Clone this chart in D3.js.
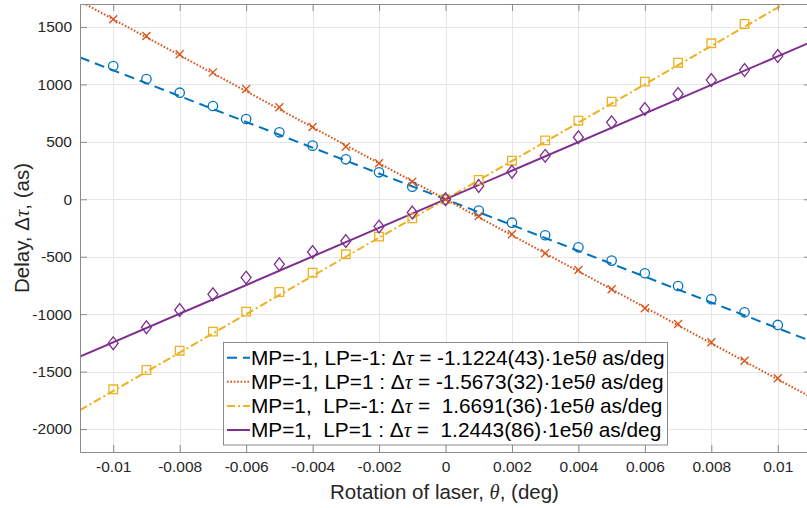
<!DOCTYPE html>
<html>
<head>
<meta charset="utf-8">
<script src="https://cdn.jsdelivr.net/npm/d3@7"></script>
<style>
  body { margin: 0; background: #fff; }
  svg { display: block; font-family: "Liberation Sans", Arial, Helvetica, sans-serif; }
  text { white-space: pre; }
</style>
</head>
<body>
<div id="chart"></div>
<script>

// rotation angles (deg) of the measured points
var theta = [-0.01, -0.009, -0.008, -0.007, -0.006, -0.005, -0.004, -0.003, -0.002, -0.001, 0,
             0.001, 0.002, 0.003, 0.004, 0.005, 0.006, 0.007, 0.008, 0.009, 0.01];

var delayMm = [1160, 1047, 928, 812, 699, 583, 467, 348, 235, 110, 0,
               -99, -204, -313, -418, -534, -644, -755, -870, -984, -1094];
var delayMp = [1567, 1421, 1262, 1105, 960, 801, 629, 458, 313, 153, 0,
               -145, -305, -470, -615, -783, -949, -1085, -1245, -1405, -1558];
var delayPm = [-1654, -1486, -1318, -1152, -978, -807, -639, -479, -325, -165, 0,
               168, 336, 513, 684, 850, 1024, 1189, 1358, 1526, 1740];
var delayPp = [-1253, -1114, -964, -827, -682, -566, -459, -363, -238, -115, 0,
               116, 240, 378, 540, 670, 786, 917, 1038, 1125, 1247];

// fitted lines, value at the left and right ends of the axis
var fitTheta = [-0.011, 0.011];
var fitMm = [1235, -1235];
var fitMp = [1724, -1724];
var fitPm = [-1836, 1836];
var fitPp = [-1369, 1369];

var legendLabels = [
  "MP=-1, LP=-1: \u0394\u03c4 = -1.1224(43)\u00b71e5\u03b8 as/deg",
  "MP=-1, LP=1 : \u0394\u03c4 = -1.5673(32)\u00b71e5\u03b8 as/deg",
  "MP=1,  LP=-1: \u0394\u03c4 =  1.6691(36)\u00b71e5\u03b8 as/deg",
  "MP=1,  LP=1 : \u0394\u03c4 =  1.2443(86)\u00b71e5\u03b8 as/deg"
];

var xTicks = [-0.01, -0.008, -0.006, -0.004, -0.002, 0, 0.002, 0.004, 0.006, 0.008, 0.01];
var xTickLabels = ["-0.01", "-0.008", "-0.006", "-0.004", "-0.002", "0", "0.002", "0.004", "0.006", "0.008", "0.01"];
var yTicks = [-2000, -1500, -1000, -500, 0, 500, 1000, 1500];

var series = [
  {y: delayMm, fit: fitMm, color: "#0072BD", dash: "10,6", marker: "o"},
  {y: delayMp, fit: fitMp, color: "#D95319", dash: "1.6,1.8", marker: "x"},
  {y: delayPm, fit: fitPm, color: "#EDB120", dash: "8,3,2,3", marker: "s"},
  {y: delayPp, fit: fitPp, color: "#7E2F8E", dash: null, marker: "d"}
];

var svg_dx = 807, svg_dy = 508;
var plot = {left: 80, right: 811, top: 4, bottom: 452};

var x = d3.scaleLinear().domain([-0.011, 0.011]).range([plot.left, plot.right]),
    y = d3.scaleLinear().domain([-2200, 1700]).range([plot.bottom, plot.top]);

var svg = d3.select("#chart")
            .append("svg")
            .attr("width", svg_dx)
            .attr("height", svg_dy);

svg.append("defs").append("clipPath")
   .attr("id", "clip")
   .append("rect")
   .attr("x", plot.left)
   .attr("y", plot.top)
   .attr("width", plot.right - plot.left)
   .attr("height", plot.bottom - plot.top);

// grid
var grid = svg.append("g").attr("stroke", "#e6e6e6").attr("stroke-width", 1);
grid.selectAll(".vg").data(xTicks).enter().append("line")
    .attr("x1", d => Math.round(x(d)) + 0.5).attr("x2", d => Math.round(x(d)) + 0.5)
    .attr("y1", plot.top).attr("y2", plot.bottom);
grid.selectAll(".hg").data(yTicks).enter().append("line")
    .attr("y1", d => Math.round(y(d)) + 0.5).attr("y2", d => Math.round(y(d)) + 0.5)
    .attr("x1", plot.left).attr("x2", plot.right);

// marker shapes
function markerPath(type) {
  if (type == "o") return d3.symbol().type(d3.symbolCircle).size(Math.PI * 4.7 * 4.7)();
  if (type == "s") return "M-4.3,-4.3H4.3V4.3H-4.3Z";
  if (type == "d") return "M0,-6.4L5,0L0,6.4L-5,0Z";
  return "M-4,-4L4,4M-4,4L4,-4";
}

var plotArea = svg.append("g").attr("clip-path", "url(#clip)");

var fitLine = d3.line()
    .x((d, i) => x(fitTheta[i]))
    .y(d => y(d));

series.forEach(function (s) {
  plotArea.append("path")
      .datum(s.fit)
      .attr("d", fitLine)
      .attr("fill", "none")
      .attr("stroke", s.color)
      .attr("stroke-width", 2)
      .attr("stroke-dasharray", s.dash);
});

series.forEach(function (s) {
  plotArea.append("g")
      .selectAll("path")
      .data(s.y.filter(v => v <= 1700 && v >= -2200))
      .enter()
      .append("path")
      .attr("transform", (d, i) => "translate(" + x(theta[s.y.indexOf(d)]) + "," + y(d) + ")")
      .attr("d", markerPath(s.marker))
      .attr("fill", "none")
      .attr("stroke", s.color)
      .attr("stroke-width", 1.3);
});

// axes (MATLAB style box, ticks inward)
var axisColor = "#8a8a8a", textColor = "#262626";

function styleAxis(g) {
  g.select(".domain").attr("stroke", axisColor);
  g.selectAll(".tick line").attr("stroke", axisColor);
  g.selectAll(".tick text").attr("fill", textColor).style("font-size", "15.5px");
}

svg.append("g")
   .attr("transform", "translate(0," + plot.bottom + ")")
   .call(d3.axisBottom(x).tickValues(xTicks).tickSize(-7).tickSizeOuter(0).tickPadding(9)
           .tickFormat((d, i) => xTickLabels[i]))
   .call(styleAxis);

svg.append("g")
   .attr("transform", "translate(0," + plot.top + ")")
   .call(d3.axisTop(x).tickValues(xTicks).tickSize(-7).tickSizeOuter(0).tickFormat(""))
   .call(styleAxis);

svg.append("g")
   .attr("transform", "translate(" + plot.left + ",0)")
   .call(d3.axisLeft(y).tickValues(yTicks).tickSize(-7).tickSizeOuter(0).tickPadding(8)
           .tickFormat(d => d))
   .call(styleAxis);

svg.append("g")
   .attr("transform", "translate(" + plot.right + ",0)")
   .call(d3.axisRight(y).tickValues(yTicks).tickSize(-7).tickSizeOuter(0).tickFormat(""))
   .call(styleAxis);

// text with greek letters in italic
function richText(sel, str) {
  str.split(/([\u03c4\u03b8])/).forEach(function (part) {
    if (part === "") return;
    var t = sel.append("tspan").text(part);
    if (part == "\u03c4" || part == "\u03b8")
      t.style("font-style", "italic").style("font-family", "'Liberation Serif', 'DejaVu Serif', serif");
  });
}

svg.append("text")
   .attr("x", (plot.left + plot.right) / 2 - 1)
   .attr("y", 499)
   .attr("text-anchor", "middle")
   .attr("fill", textColor)
   .style("font-size", "20.5px")
   .call(richText, "Rotation of laser, \u03b8, (deg)");

svg.append("text")
   .attr("transform", "translate(29," + ((plot.top + plot.bottom) / 2) + ") rotate(-90)")
   .attr("text-anchor", "middle")
   .attr("fill", textColor)
   .style("font-size", "20.5px")
   .call(richText, "Delay, \u0394\u03c4, (as)");

// legend
var legend = svg.append("g");
legend.append("rect")
      .attr("x", 223.5).attr("y", 342.5)
      .attr("width", 444).attr("height", 102.5)
      .attr("fill", "#fff")
      .attr("stroke", axisColor);

series.forEach(function (s, i) {
  var ly = 357.7 + i * 24.1;
  legend.append("line")
        .attr("x1", 227).attr("x2", 250)
        .attr("y1", ly).attr("y2", ly)
        .attr("stroke", s.color)
        .attr("stroke-width", 2)
        .attr("stroke-dasharray", s.dash);
  legend.append("text")
        .attr("x", 251)
        .attr("y", ly + 7.3)
        .attr("fill", "#000")
        .style("font-size", "20.8px")
        .call(richText, legendLabels[i]);
});

</script>
</body>
</html>
